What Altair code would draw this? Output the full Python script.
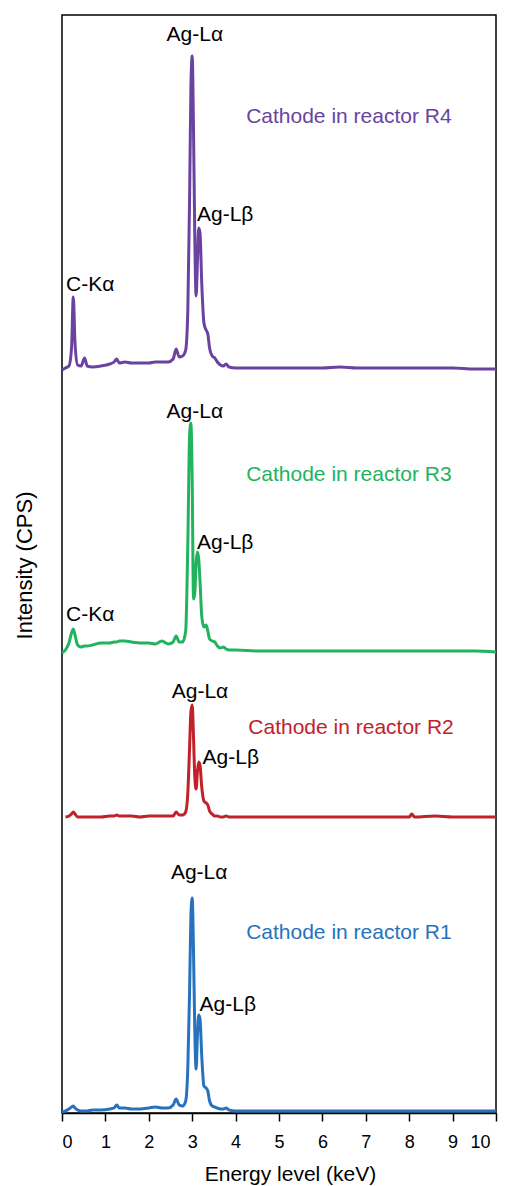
import altair as alt
import pandas as pd

# Energy grid (keV)
energy = [0.00, 0.08, 0.16, 0.22, 0.26, 0.30, 0.36, 0.44, 0.52, 0.58, 0.70, 0.90, 1.10, 1.20, 1.26,
          1.32, 1.45, 1.60, 1.80, 2.00, 2.15, 2.30, 2.45, 2.56, 2.63, 2.70, 2.78, 2.85, 2.90, 2.94,
          2.97, 3.00, 3.03, 3.06, 3.09, 3.12, 3.15, 3.18, 3.22, 3.27, 3.32, 3.36, 3.40, 3.46, 3.52,
          3.58, 3.65, 3.72, 3.78, 3.85, 4.00, 4.50, 5.00, 5.50, 6.00, 6.40, 6.80, 7.50, 8.00, 8.06,
          8.12, 8.60, 9.00, 9.50, 10.00]

# Intensities (arbitrary units above each spectrum's own baseline)
r4 = [-2, 0, 2, 20, 71, 25, 3, 2, 10, 2, 1, 2, 4, 6, 9,
      5, 6, 5, 5, 5, 6, 6, 6, 9, 19, 11, 12, 18, 60, 170,
      280, 312, 240, 130, 72, 105, 140, 135, 85, 45, 38, 34, 20, 12, 10,
      6, 3, 2, 4, 1, 0, 0, 0, 0, 0, 1, 0, 0, 0, 0,
      0, 0, 0, -1, -1]
r3 = [-2, 1, 8, 18, 22, 16, 6, 4, 5, 5, 6, 8, 8, 9, 9,
      10, 10, 9, 8, 8, 7, 10, 7, 9, 15, 9, 9, 20, 110, 215,
      228, 170, 52, 58, 88, 99, 92, 70, 35, 24, 26, 20, 12, 10, 9,
      5, 3, 4, 2, 1, 1, 0, 0, 0, 0, 0, 0, 0, 0, 0,
      0, 0, 0, 0, -1]
r2 = [None, 0, 1, 3, 5, 3, 0, 0, 0, 0, 0, 0, 1, 1, 2,
      1, 1, 1, 0, 1, 1, 1, 1, 1, 5, 2, 2, 5, 25, 70,
      105, 112, 80, 40, 28, 45, 55, 52, 30, 16, 14, 12, 6, 3, 1,
      1, 0, 0, 1, 0, 0, 0, 0, 0, 0, 0, 0, 0, 0, 3,
      0, 1, 0, 0, 0]
r1 = [-1, 0, 2, 4, 5, 3, 1, 0, 0, 0, 1, 1, 2, 3, 6,
      3, 3, 2, 2, 3, 4, 3, 3, 6, 12, 6, 5, 10, 45, 120,
      195, 213, 160, 80, 42, 75, 96, 92, 55, 25, 23, 20, 10, 5, 4,
      3, 2, 2, 3, 1, 0, 0, 0, 0, 0, 0, 0, 0, 0, 0,
      0, 0, 0, 0, 0]

series_names = ["R1", "R2", "R3", "R4"]
series_values = [r1, r2, r3, r4]
series_offsets = [2, 296, 462, 745]
series_colors = ["#2672BE", "#C1212B", "#22B35E", "#6A43A0"]

# Annotations
label_text = ["Ag-Lα", "Ag-Lβ", "C-Kα", "Cathode in reactor R4",
              "Ag-Lα", "Ag-Lβ", "C-Kα", "Cathode in reactor R3",
              "Ag-Lα", "Ag-Lβ", "Cathode in reactor R2",
              "Ag-Lα", "Ag-Lβ", "Cathode in reactor R1"]
label_x = [3.06, 3.76, 0.65, 6.61,
           3.06, 3.76, 0.65, 6.61,
           3.18, 3.89, 6.66,
           3.16, 3.82, 6.61]
label_y = [1078, 898, 828, 996,
           701, 570, 498, 638,
           421, 355, 385,
           240, 108, 180]
label_color = ["black", "black", "black", "R4",
               "black", "black", "black", "R3",
               "black", "black", "R2",
               "black", "black", "R1"]

x_ticks = [0, 0.5, 1, 1.5, 2, 2.5, 3, 3.5, 4, 4.5, 5, 5.5, 6, 6.5, 7, 7.5, 8, 8.5, 9, 9.5, 10]

rows = []
for name, vals, off in zip(series_names, series_values, series_offsets):
    for e, v in zip(energy, vals):
        rows.append({"energy": e, "series": name, "y": None if v is None else off + v})
spec_df = pd.DataFrame(rows)

color_map = dict(zip(series_names, series_colors))
lab_df = pd.DataFrame({
    "text": label_text,
    "x": label_x,
    "y": label_y,
    "color": [color_map.get(c, "#000000") for c in label_color],
})

FONT = "Liberation Sans"

x_enc = alt.X(
    "energy:Q",
    scale=alt.Scale(domain=[0, 10], nice=False, zero=False),
    axis=alt.Axis(
        title="Energy level (keV)",
        values=x_ticks,
        labelExpr="datum.value % 1 === 0 ? datum.label : ''",
        grid=False,
        tickSize=8,
        tickWidth=1.5,
        tickColor="black",
        domainColor="black",
        domainWidth=1.5,
        labelColor="black",
        labelFont=FONT,
        labelFontSize=18,
        labelBaseline="alphabetic",
        labelPadding=26,
        labelOffset={"condition": {"test": "datum.value === 10", "value": -6}, "value": 0},
        titleFont=FONT,
        titleFontSize=21,
        titleFontWeight="normal",
        titleColor="black",
        titleBaseline="alphabetic",
        titleAlign="center",
        titleX=228,
        titleY=67,
    ),
)
y_scale = alt.Scale(domain=[0, 1098], nice=False, zero=False)
y_axis = alt.Axis(
    title="Intensity (CPS)",
    labels=False,
    ticks=False,
    domain=False,
    grid=False,
    titleFont=FONT,
    titleFontSize=22,
    titleFontWeight="normal",
    titleColor="black",
    titleAngle=270,
    titleX=-38,
    titleY=550,
    titleAlign="center",
    titleBaseline="middle",
)

lines = alt.Chart(spec_df).mark_line(strokeWidth=3, interpolate="monotone").encode(
    x=x_enc,
    y=alt.Y("y:Q", scale=y_scale, axis=y_axis),
    color=alt.Color("series:N", scale=alt.Scale(domain=series_names, range=series_colors), legend=None),
    detail="series:N",
)

texts = alt.Chart(lab_df).mark_text(font=FONT, fontSize=21, align="center", baseline="middle").encode(
    x=alt.X("x:Q"),
    y=alt.Y("y:Q"),
    color=alt.Color("color:N", scale=None),
    text="text:N",
)

chart = alt.layer(lines, texts).properties(
    width=434,
    height=1098,
    padding={"left": 54, "top": 7, "right": 5, "bottom": 73},
    autosize=alt.AutoSizeParams(type="none"),
).configure_view(stroke="black", strokeWidth=1.5)

chart.save("out.html", embed_options={"renderer": "svg", "actions": False})
